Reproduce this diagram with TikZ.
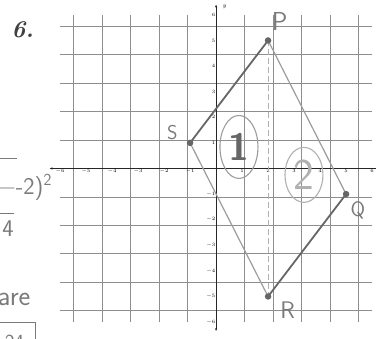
\documentclass[tikz,border=0pt]{standalone}
\usepackage{tikz}
\usetikzlibrary{arrows.meta,positioning,shapes.geometric}
\definecolor{gridgray}{HTML}{8E8E8E}
\definecolor{penDark}{HTML}{666666}
\definecolor{penLight}{HTML}{9C9C9C}
\definecolor{penFaint}{HTML}{B0B0B0}
\definecolor{inkText}{HTML}{7A7A7A}

\tikzset{
  gridline/.style={gridgray, line width=0.7pt},
  axisline/.style={black!85, line width=1.1pt},
  ticklabel/.style={font=\fontsize{4.5}{4.5}\selectfont, inner sep=0.6pt},
  vertexdot/.style={circle, fill=penDark, inner sep=0pt, minimum size=6.5pt},
  sideDark/.style={penDark, line width=1.8pt, line cap=round},
  sideLight/.style={penLight, line width=1.2pt, line cap=round},
  hand/.style={inkText, font=\sffamily, inner sep=0pt},
}

\begin{document}
\begin{tikzpicture}[x=26pt, y=25.6pt]
  \useasboundingbox (-8.31,-6.66) rectangle (6.15,6.58);

  % Problem number
  \node[black!75, font=\fontsize{24}{24}\selectfont\bfseries\itshape] (num) at (-7.44,5.41) {6.};

  % Grid and axes
  \draw[gridline] (-6,-6) grid (6,6);
  \coordinate (xlo) at (-6.4,0);
  \coordinate (xhi) at (6.6,0);
  \coordinate (ylo) at (0,-6.35);
  \coordinate (yhi) at (0,6.4);
  \draw[axisline, {Stealth[length=3pt]}-{Stealth[length=3pt]}] (xlo) -- (xhi);
  \draw[axisline, {Stealth[length=3pt]}-{Stealth[length=3pt]}] (ylo) -- (yhi);
  \node[font=\fontsize{6}{6}\selectfont\itshape, anchor=west] (ylab) at (0.12,6.3) {y};
  \foreach \i in {-6,...,-1,1,2,...,6} {
    \node[ticklabel, below] at (\i,0) {$\i$};
    \node[ticklabel, left] at (0,\i) {$\i$};
  }

  % Rhombus PQRS
  \coordinate (P) at (2,5);
  \coordinate (Q) at (5,-1);
  \coordinate (R) at (2,-5);
  \coordinate (S) at (-1,1);
  \draw[penFaint, line width=1.1pt, dash pattern=on 6pt off 3pt] (P) -- (R);
  \draw[sideLight] (P) -- (Q);
  \draw[sideLight] (R) -- (S);
  \draw[sideDark] (S) -- (P);
  \draw[sideDark] (Q) -- (R);
  \foreach \v in {P,Q,R,S} {
    \node[vertexdot] at (\v) {};
  }

  % Vertex labels
  \node[hand, font=\fontsize{26}{26}\sffamily] (labP) at (2.45,5.75) {P};
  \node[hand, font=\fontsize{20}{20}\sffamily] (labS) at (-1.68,1.42) {S};
  \node[hand, font=\fontsize{21}{21}\sffamily] (labQ) at (5.45,-1.62) {Q};
  \node[hand, font=\fontsize{24}{24}\sffamily] (labR) at (2.75,-5.55) {R};

  % Regions
  \node[draw=penLight, line width=1.1pt, ellipse, minimum width=38pt, minimum height=63pt,
        inner sep=0pt, text=penDark, font=\fontsize{38}{38}\sffamily\bfseries] (reg1) at (0.88,0.84) {1};
  \node[draw=penFaint, line width=1.1pt, ellipse, minimum width=38pt, minimum height=55pt,
        inner sep=0pt, text=penFaint, font=\fontsize{44}{44}\sffamily] (reg2) at (3.38,-0.25) {2};

  % Work cut off at the left edge
  \draw[inkText, line width=0.9pt] (-8.4,0.41) -- (-7.65,0.41);
  \node[hand, font=\fontsize{24}{24}\sffamily, anchor=west] (work1) at (-8.38,-0.72) {\textminus-2)\textsuperscript{2}};
  \draw[inkText, line width=0.9pt] (-8.4,-1.74) -- (-7.78,-1.74);
  \node[hand, font=\fontsize{24}{24}\sffamily] (work2) at (-8.0,-2.36) {4};
  \node[hand, font=\fontsize{28}{28}\sffamily, anchor=west] (work3) at (-8.4,-5.1) {are};
  \draw[inkText, line width=0.9pt] (-8.4,-6.0) -- (-6.96,-6.0) -- (-6.96,-6.9);
  \node[hand, font=\fontsize{20}{20}\sffamily] (work4) at (-7.75,-6.75) {24};
\end{tikzpicture}
\end{document}
